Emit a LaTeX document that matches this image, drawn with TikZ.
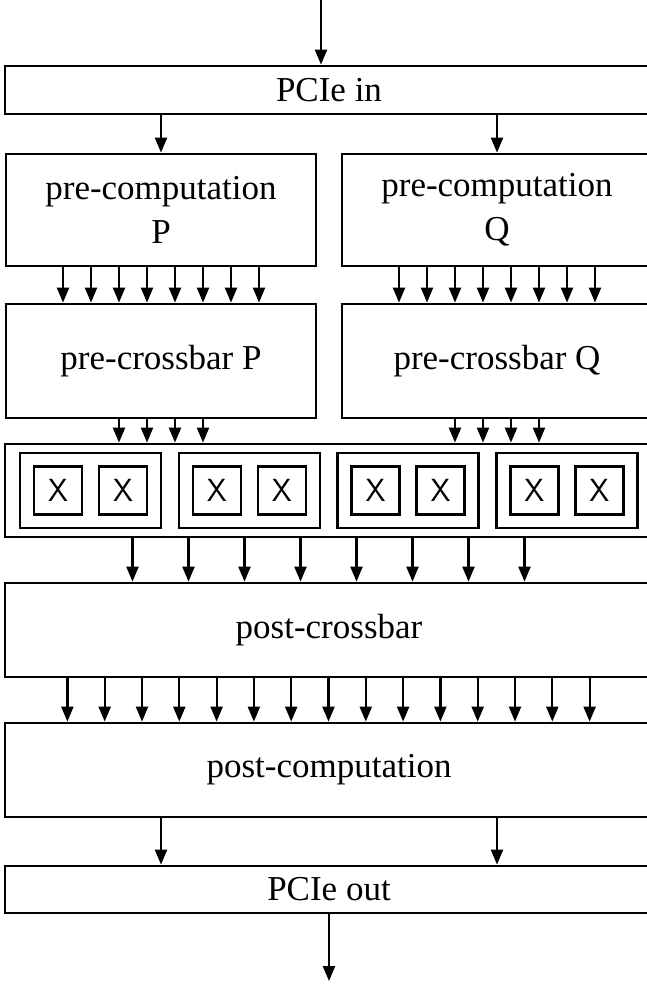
\documentclass[tikz,border=0pt]{standalone}
\usepackage{fontspec}
\setmainfont{Liberation Serif}
\usetikzlibrary{arrows.meta}
\tikzset{
  blk/.style={draw, line width=2.8pt, inner sep=0pt, align=center,
    font=\fontsize{35}{40}\selectfont},
  grp/.style={draw, line width=2.5pt, inner sep=0pt, minimum width=141pt, minimum height=75pt},
  xbox/.style={draw, line width=2.5pt, inner sep=0pt, minimum width=48pt, minimum height=48pt,
    font=\fontsize{32}{32}\sffamily},
  arr/.style={line width=2.2pt, -{Triangle[length=15pt,width=12pt]}}
}
\begin{document}
\begin{tikzpicture}[x=1pt,y=-1pt]
\clip (0,0) rectangle (647,985);
\useasboundingbox (0,0) rectangle (647,985);
\fill[white] (0,0) rectangle (647,985);
% blocks
\node[blk, minimum width=648pt, minimum height=48pt] (pin) at (329,90) {PCIe in};
\node[blk, minimum width=310pt, minimum height=112pt] (preP) at (161,210) {pre-computation\\[4pt]P};
\node[blk, minimum width=310pt, minimum height=112pt] (preQ) at (497,210) {pre-computation\\[4pt]Q};
\node[blk, minimum width=310pt, minimum height=114pt] (xbP) at (161,361) {pre-crossbar P};
\node[blk, minimum width=310pt, minimum height=114pt] (xbQ) at (497,361) {pre-crossbar Q};
\node[blk, minimum width=648pt, minimum height=93pt] (cross) at (329,490.5) {};
\foreach \k in {0,1,2,3}{
  \node[grp] (g\k) at ({90.5+158.8*\k},490.5) {};
  \node[xbox] (xa\k) at ({90.5+158.8*\k-32.5},490.5) {X};
  \node[xbox] (xb\k) at ({90.5+158.8*\k+32.5},490.5) {X};
}
\node[blk, minimum width=648pt, minimum height=94pt] (postxb) at (329,630) {post-crossbar};
\node[blk, minimum width=648pt, minimum height=94pt] (postc) at (329,770) {post-computation};
\node[blk, minimum width=648pt, minimum height=47pt] (pout) at (329,889.5) {PCIe out};
\coordinate (src) at (321,0);
\coordinate (sink) at (329,981);
% connectors
\draw[arr] (src) -- (src |- pin.north);
\draw[arr] (pin.south -| preP.south) -- (preP.north);
\draw[arr] (pin.south -| preQ.south) -- (preQ.north);
\foreach \i in {0,...,7}{
  \draw[arr] (preP.south -| {161+28*(\i-3.5)},0) -- (xbP.north -| {161+28*(\i-3.5)},0);
  \draw[arr] (preQ.south -| {497+28*(\i-3.5)},0) -- (xbQ.north -| {497+28*(\i-3.5)},0);
}
\foreach \i in {0,...,3}{
  \draw[arr] (xbP.south -| {161+28*(\i-1.5)},0) -- (cross.north -| {161+28*(\i-1.5)},0);
  \draw[arr] (xbQ.south -| {497+28*(\i-1.5)},0) -- (cross.north -| {497+28*(\i-1.5)},0);
}
\foreach \i in {0,...,7}{
  \draw[arr] (cross.south -| {328.5+56*(\i-3.5)},0) -- (postxb.north -| {328.5+56*(\i-3.5)},0);
}
\foreach \i in {0,...,14}{
  \draw[arr] (postxb.south -| {328.5+37.3*(\i-7)},0) -- (postc.north -| {328.5+37.3*(\i-7)},0);
}
\draw[arr] (postc.south -| preP.south) -- (pout.north -| preP.south);
\draw[arr] (postc.south -| preQ.south) -- (pout.north -| preQ.south);
\draw[arr] (pout.south -| sink) -- (sink);
\end{tikzpicture}
\end{document}
